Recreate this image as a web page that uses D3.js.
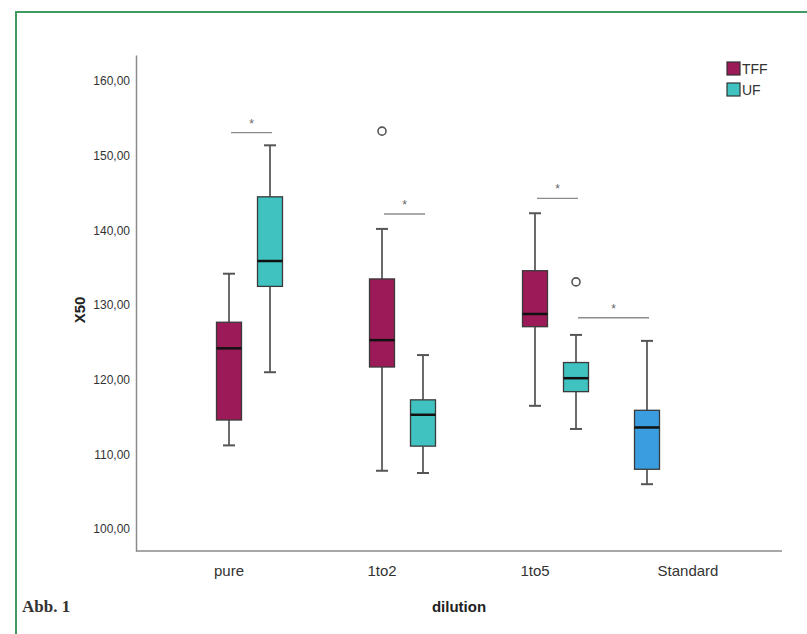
<!DOCTYPE html>
<html>
<head>
<meta charset="utf-8">
<script src="https://cdn.jsdelivr.net/npm/d3@7"></script>
<style>
  body { margin: 0; background: #fff; }
  text { font-family: "Liberation Sans", Arial, sans-serif; }
</style>
</head>
<body>
<div id="chart-area"></div>
<script>
// ---- data ----
const categories = ["pure", "1to2", "1to5", "Standard"];
const groups = ["Standard", "TFF", "UF"];   // slot order inside a category
const legendGroups = ["TFF", "UF"];

const boxCategory = ["pure", "pure", "1to2", "1to2", "1to5", "1to5", "Standard"];
const boxGroup    = ["TFF",  "UF",   "TFF",  "UF",   "TFF",  "UF",   "Standard"];
const whiskerLow  = [111.2, 121.0, 107.8, 107.5, 116.5, 113.4, 106.0];
const q1          = [114.6, 132.5, 121.7, 111.1, 127.1, 118.4, 108.0];
const median      = [124.2, 135.9, 125.3, 115.3, 128.8, 120.2, 113.6];
const q3          = [127.7, 144.5, 133.5, 117.3, 134.6, 122.3, 115.9];
const whiskerHigh = [134.2, 151.4, 140.2, 123.3, 142.3, 126.0, 125.2];

const outlierCategory = ["1to2", "1to5"];
const outlierGroup    = ["TFF", "UF"];
const outlierValue    = [153.3, 133.1];

// significance bars: from [cat, group] to [cat, group] at a level
const sigFrom  = [["pure", "TFF"], ["1to2", "TFF"], ["1to5", "TFF"], ["1to5", "UF"]];
const sigTo    = [["pure", "UF"],  ["1to2", "UF"],  ["1to5", "UF"],  ["Standard", "Standard"]];
const sigLevel = [153.1, 142.2, 144.3, 128.3];

const yTicks = [100, 110, 120, 130, 140, 150, 160];

const color = { TFF: "#9c1a58", UF: "#3fc2c0", Standard: "#3a9de0" };

// ---- layout ----
const W = 807, H = 634;
const plot = { left: 136, right: 782, top: 55, bottom: 551 };

const svg = d3.select("#chart-area").append("svg")
  .attr("width", W).attr("height", H);

// green frame (top & left)
svg.append("path")
  .attr("d", "M16,634 L16,12 L807,12")
  .attr("fill", "none")
  .attr("stroke", "#3f9a62")
  .attr("stroke-width", 2);

// scales
const x = d3.scaleBand().domain(categories).range([152.5, 764.5]);
const xg = d3.scaleBand().domain(groups).range([-61.5, 61.5]);
const y = d3.scaleLinear().domain([97.05, 163.5]).range([plot.bottom, plot.top]);

const cx = (cat, grp) => x(cat) + x.bandwidth() / 2 + xg(grp) + xg.bandwidth() / 2;
const boxW = 25, capW = 12;

// y axis
const yAxis = d3.axisLeft(y)
  .tickValues(yTicks)
  .tickSize(0)
  .tickPadding(6)
  .tickFormat(d => d3.format(".2f")(d).replace(".", ","));

const yg = svg.append("g")
  .attr("transform", "translate(" + plot.left + ",0)")
  .call(yAxis);
yg.select(".domain").attr("stroke", "#8a8a8a").attr("stroke-width", 1.5);
yg.selectAll("text").attr("font-size", 12).attr("fill", "#333");

// x axis line + labels
svg.append("line")
  .attr("x1", plot.left).attr("x2", plot.right)
  .attr("y1", plot.bottom).attr("y2", plot.bottom)
  .attr("stroke", "#8a8a8a").attr("stroke-width", 1.5);

const xAxis = d3.axisBottom(x).tickSize(0).tickPadding(14);
const xgAxis = svg.append("g")
  .attr("transform", "translate(0," + plot.bottom + ")")
  .call(xAxis);
xgAxis.select(".domain").remove();
xgAxis.selectAll("text").attr("font-size", 15).attr("fill", "#333");

// axis titles
svg.append("text")
  .attr("x", 459).attr("y", 612)
  .attr("text-anchor", "middle")
  .attr("font-size", 15).attr("font-weight", "bold").attr("fill", "#222")
  .text("dilution");

svg.append("text")
  .attr("transform", "translate(85,310) rotate(-90)")
  .attr("text-anchor", "middle")
  .attr("font-size", 15).attr("font-weight", "bold").attr("fill", "#222")
  .text("X50");

svg.append("text")
  .attr("x", 22).attr("y", 612)
  .style("font-family", "'Liberation Serif', serif")
  .attr("font-size", 17).attr("font-weight", "bold").attr("fill", "#333")
  .text("Abb. 1");

// ---- boxes ----
const boxes = boxCategory.map((c, i) => ({
  cat: c, grp: boxGroup[i],
  lo: whiskerLow[i], q1: q1[i], med: median[i], q3: q3[i], hi: whiskerHigh[i]
}));

const bg = svg.selectAll("g.box").data(boxes).enter().append("g").attr("class", "box");

// whiskers
bg.append("line")
  .attr("x1", d => cx(d.cat, d.grp)).attr("x2", d => cx(d.cat, d.grp))
  .attr("y1", d => y(d.hi)).attr("y2", d => y(d.q3))
  .attr("stroke", "#6b6b6b").attr("stroke-width", 2);
bg.append("line")
  .attr("x1", d => cx(d.cat, d.grp)).attr("x2", d => cx(d.cat, d.grp))
  .attr("y1", d => y(d.q1)).attr("y2", d => y(d.lo))
  .attr("stroke", "#6b6b6b").attr("stroke-width", 2);
// caps
["hi", "lo"].forEach(k => {
  bg.append("line")
    .attr("x1", d => cx(d.cat, d.grp) - capW / 2).attr("x2", d => cx(d.cat, d.grp) + capW / 2)
    .attr("y1", d => y(d[k])).attr("y2", d => y(d[k]))
    .attr("stroke", "#555").attr("stroke-width", 2);
});
// box
bg.append("rect")
  .attr("x", d => cx(d.cat, d.grp) - boxW / 2)
  .attr("y", d => y(d.q3))
  .attr("width", boxW)
  .attr("height", d => y(d.q1) - y(d.q3))
  .attr("fill", d => color[d.grp])
  .attr("stroke", "#3a3a3a").attr("stroke-width", 1.3);
// median
bg.append("line")
  .attr("x1", d => cx(d.cat, d.grp) - boxW / 2).attr("x2", d => cx(d.cat, d.grp) + boxW / 2)
  .attr("y1", d => y(d.med)).attr("y2", d => y(d.med))
  .attr("stroke", "#111").attr("stroke-width", 2.5);

// outliers
svg.selectAll("circle.outlier").data(outlierValue).enter().append("circle")
  .attr("class", "outlier")
  .attr("cx", (d, i) => cx(outlierCategory[i], outlierGroup[i]))
  .attr("cy", d => y(d))
  .attr("r", 4)
  .attr("fill", "#fff").attr("stroke", "#555").attr("stroke-width", 1.6);

// significance bars
sigLevel.forEach((lv, i) => {
  const x1 = cx(sigFrom[i][0], sigFrom[i][1]) + 2;
  const x2 = cx(sigTo[i][0], sigTo[i][1]) + 2;
  svg.append("line")
    .attr("x1", x1).attr("x2", x2)
    .attr("y1", y(lv)).attr("y2", y(lv))
    .attr("stroke", "#8c8c8c").attr("stroke-width", 1.3);
  svg.append("text")
    .attr("x", (x1 + x2) / 2).attr("y", y(lv) - 5)
    .attr("text-anchor", "middle")
    .attr("font-size", 12).attr("fill", "#666")
    .text("*");
});

// legend
const legend = svg.append("g").attr("transform", "translate(727,62)");
legendGroups.forEach((g, i) => {
  const row = legend.append("g").attr("transform", "translate(0," + (i * 21) + ")");
  row.append("rect")
    .attr("width", 13).attr("height", 13)
    .attr("fill", color[g]).attr("stroke", "#333").attr("stroke-width", 1.2);
  row.append("text")
    .attr("x", 15).attr("y", 12)
    .attr("font-size", 14).attr("fill", "#333")
    .text(g);
});
</script>
</body>
</html>
